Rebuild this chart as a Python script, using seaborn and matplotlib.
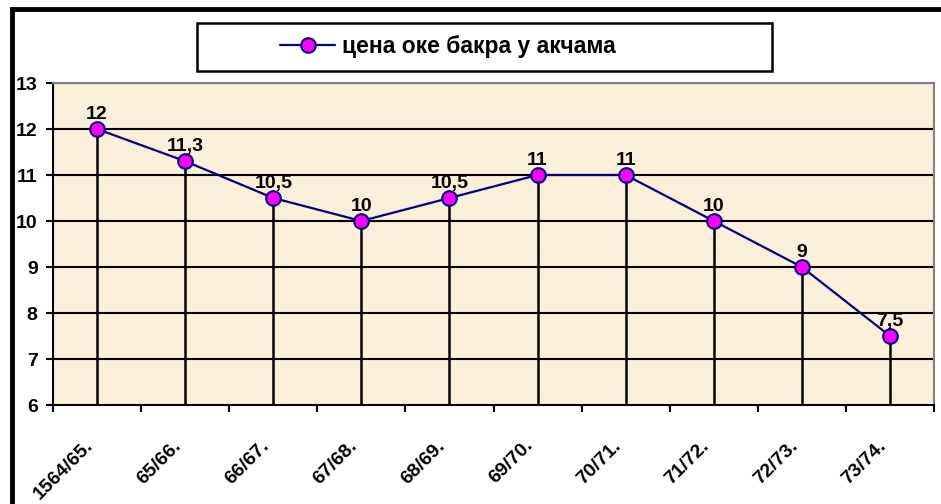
import matplotlib
matplotlib.use("Agg")
import matplotlib.pyplot as plt
from matplotlib.patches import Rectangle
from matplotlib.ticker import FixedLocator
from matplotlib.transforms import ScaledTranslation
import seaborn as sns
import pandas as pd

years = ["1564/65.", "65/66.", "66/67.", "67/68.", "68/69.",
         "69/70.", "70/71.", "71/72.", "72/73.", "73/74."]
prices = [12, 11.3, 10.5, 10, 10.5, 11, 11, 10, 9, 7.5]
price_labels = ["12", "11,3", "10,5", "10", "10,5", "11", "11", "10", "9", "7,5"]
series_name = "цена оке бакра у акчама"

sns.set_theme(style="white")
plt.rcParams["font.family"] = ["Liberation Sans", "DejaVu Sans"]
plt.rcParams["font.weight"] = "bold"
plt.rcParams["text.color"] = "black"
plt.rcParams["xtick.color"] = "black"
plt.rcParams["ytick.color"] = "black"

df = pd.DataFrame({"year": years, "price": prices})
df["pos"] = range(len(df))

fig = plt.figure(figsize=(9.41, 5.04), dpi=100)
ax = fig.add_axes([53 / 941, 1 - 405 / 504, 881 / 941, 322 / 504])
ax.set_facecolor("#FAEFD8")

# horizontal grid
for y in range(7, 14):
    ax.axhline(y, color="black", lw=1.5, zorder=1)

# drop lines from each point to the axis
ax.vlines(df["pos"], 6, df["price"], color="black", lw=1.8, zorder=2)

sns.lineplot(data=df, x="pos", y="price", ax=ax, color="#000080", lw=1.6,
             marker="o", markersize=10.5, markerfacecolor="#FF00FF",
             markeredgecolor="#000080", markeredgewidth=1.5, zorder=3,
             label=series_name, legend=False)

for x, y, t in zip(df["pos"], df["price"], price_labels):
    ax.annotate(t, (x, y), xytext=(0, 7.5), textcoords="offset points",
                ha="center", va="baseline", fontsize=14, fontweight="bold",
                color="black", zorder=4)

ax.set_xlim(-0.5, len(years) - 0.5)
ax.set_ylim(6, 13)
ax.set_yticks(range(6, 14))
ax.set_yticklabels([str(v) for v in range(6, 14)], fontsize=14, fontweight="bold")

# category boundaries carry the tick marks, labels sit under the centres
ax.xaxis.set_major_locator(FixedLocator([i - 0.5 for i in range(len(years) + 1)]))
ax.xaxis.set_major_formatter(plt.NullFormatter())
ax.tick_params(axis="x", which="major", length=5, width=1.5, color="black",
               direction="out", bottom=True)
ax.tick_params(axis="y", length=5, width=1.5, color="black", direction="out",
               left=True, pad=6)
lbl_tr = ax.get_xaxis_transform() + ScaledTranslation(-13 / 100, -32 / 100,
                                                       fig.dpi_scale_trans)
for i, name in enumerate(years):
    ax.text(i, 0, name, transform=lbl_tr, rotation=45, ha="right", va="top",
            rotation_mode="anchor", fontsize=14, fontweight="bold",
            color="black", clip_on=False)
ax.set_xlabel("")
ax.set_ylabel("")

for side in ["left", "bottom"]:
    ax.spines[side].set_color("black")
    ax.spines[side].set_linewidth(1.5)
for side in ["top", "right"]:
    ax.spines[side].set_color("#808080")
    ax.spines[side].set_linewidth(1.5)
    ax.spines[side].set_linestyle((0, (1, 1)))

# outer chart frame (top and left edges visible)
fig.patches.append(Rectangle((12 / 941, -0.1), 1.2, 1 - 9 / 504 + 0.1,
                             transform=fig.transFigure, fill=False,
                             edgecolor="black", lw=3.5, zorder=0))

# legend box
fig.patches.append(Rectangle((197 / 941, 1 - 71 / 504), 575 / 941, 48 / 504,
                             transform=fig.transFigure, facecolor="white",
                             edgecolor="black", lw=1.8, zorder=1))
handles, labels = ax.get_legend_handles_labels()
fig.legend(handles, labels, loc="center", bbox_to_anchor=(448 / 941, 1 - 47 / 504),
           frameon=False, prop={"size": 16.5, "weight": "bold"},
           handlelength=2.4, handletextpad=0.3)

fig.savefig("out.png", dpi=100)
